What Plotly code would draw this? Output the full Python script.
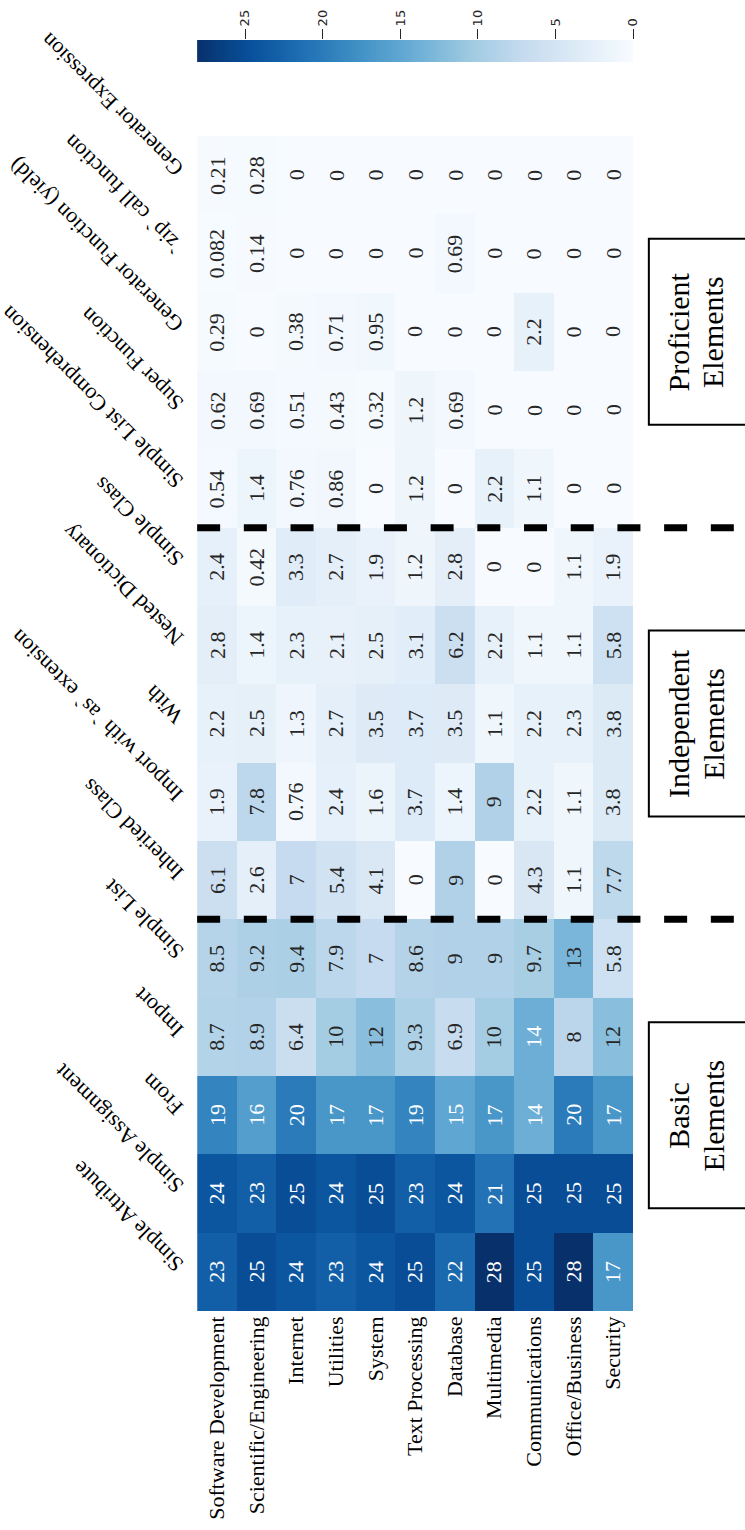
import numpy as np
import plotly.graph_objects as go

# ---- data -------------------------------------------------------------
categories = ["Software Development", "Scientific/Engineering", "Internet", "Utilities",
              "System", "Text Processing", "Database", "Multimedia",
              "Communications", "Office/Business", "Security"]

elements = ["Simple Attribute", "Simple Assignment", "From", "Import", "Simple List",
            "Inherited Class", "Import with `as` extension", "With", "Nested Dictionary",
            "Simple Class", "Simple List Comprehension", "Super Function",
            "Generator Function (yield)", "`zip` call function", "Generator Expression"]

simple_attribute = [23, 25, 24, 23, 24, 25, 22, 28, 25, 28, 17]
simple_assignment = [24, 23, 25, 24, 25, 23, 24, 21, 25, 25, 25]
from_stmt = [19, 16, 20, 17, 17, 19, 15, 17, 14, 20, 17]
import_stmt = [8.7, 8.9, 6.4, 10, 12, 9.3, 6.9, 10, 14, 8, 12]
simple_list = [8.5, 9.2, 9.4, 7.9, 7, 8.6, 9, 9, 9.7, 13, 5.8]
inherited_class = [6.1, 2.6, 7, 5.4, 4.1, 0, 9, 0, 4.3, 1.1, 7.7]
import_as = [1.9, 7.8, 0.76, 2.4, 1.6, 3.7, 1.4, 9, 2.2, 1.1, 3.8]
with_stmt = [2.2, 2.5, 1.3, 2.7, 3.5, 3.7, 3.5, 1.1, 2.2, 2.3, 3.8]
nested_dict = [2.8, 1.4, 2.3, 2.1, 2.5, 3.1, 6.2, 2.2, 1.1, 1.1, 5.8]
simple_class = [2.4, 0.42, 3.3, 2.7, 1.9, 1.2, 2.8, 0, 0, 1.1, 1.9]
list_comprehension = [0.54, 1.4, 0.76, 0.86, 0, 1.2, 0, 2.2, 1.1, 0, 0]
super_function = [0.62, 0.69, 0.51, 0.43, 0.32, 1.2, 0.69, 0, 0, 0, 0]
generator_function = [0.29, 0, 0.38, 0.71, 0.95, 0, 0, 0, 2.2, 0, 0]
zip_call = [0.082, 0.14, 0, 0, 0, 0, 0.69, 0, 0, 0, 0]
generator_expression = [0.21, 0.28, 0, 0, 0, 0, 0, 0, 0, 0, 0]

groups = ["Basic", "Independent", "Proficient"]
group_suffix = "Elements"
group_sizes = [5, 5, 5]

colorbar_ticks = [0, 5, 10, 15, 20, 25]
color_max = 28.1

# ---- styling ------------------------------------------------------------
W, H = 745, 1530
SERIF = "Liberation Serif, Times New Roman, serif"
SANS = "DejaVu Sans, sans-serif"
DARK = "#262626"

blues = ["rgb(247,251,255)", "rgb(222,235,247)", "rgb(198,219,239)",
         "rgb(158,202,225)", "rgb(107,174,214)", "rgb(66,146,198)",
         "rgb(33,113,181)", "rgb(8,81,156)", "rgb(8,48,107)"]
colorscale = [[i / (len(blues) - 1), c] for i, c in enumerate(blues)]
blues_rgb = np.array([[int(p) for p in c[4:-1].split(",")] for c in blues], float)

def cell_rgb(v):
    t = min(max(v / color_max, 0.0), 1.0) * (len(blues) - 1)
    k = min(int(t), len(blues) - 2)
    f = t - k
    return blues_rgb[k] * (1 - f) + blues_rgb[k + 1] * f

def text_color(v):
    rgb = cell_rgb(v) / 255.0
    lin = np.where(rgb <= 0.03928, rgb / 12.92, ((rgb + 0.055) / 1.055) ** 2.4)
    lum = 0.2126 * lin[0] + 0.7152 * lin[1] + 0.0722 * lin[2]
    return DARK if lum > 0.408 else "white"

z = [simple_attribute, simple_assignment, from_stmt, import_stmt, simple_list,
     inherited_class, import_as, with_stmt, nested_dict, simple_class,
     list_comprehension, super_function, generator_function, zip_call,
     generator_expression]

# pixel layout of the main grid
left, right, top, bottom = 199, 639, 136, 1311
xdom = [left / W, right / W]
ydom = [(H - bottom) / H, (H - top) / H]
row_px = (bottom - top) / len(elements)

fig = go.Figure()

fig.add_trace(go.Heatmap(
    z=z, x=categories, y=elements,
    colorscale=colorscale, zmin=0, zmax=color_max, showscale=False,
    xaxis="x", yaxis="y",
    hovertemplate="%{y} / %{x}: %{z}<extra></extra>",
))

# horizontal colour bar drawn as its own strip with a top axis
grad = np.linspace(0, color_max, 400)
fig.add_trace(go.Heatmap(
    z=[grad], x=grad, y=[0],
    colorscale=colorscale, zmin=0, zmax=color_max, showscale=False,
    xaxis="x2", yaxis="y2", hoverinfo="skip",
))

annotations = []
for i, el in enumerate(elements):
    for j, cat in enumerate(categories):
        v = z[i][j]
        annotations.append(dict(
            x=cat, y=el, xref="x", yref="y", text=format(v, ".2g"),
            showarrow=False, textangle=-90,
            font=dict(family=SERIF, size=22, color=text_color(v)),
        ))
    # element name, slanted away from the grid
    annotations.append(dict(
        x=193 / W, xref="paper", y=el, yref="y", text=el,
        showarrow=False, textangle=-135, xanchor="right", yanchor="bottom",
        yshift=-8, font=dict(family=SERIF, size=22, color="black"),
    ))

shapes = []
start = 0
box_half = 93 / row_px
for g, n in zip(groups, group_sizes):
    centre = start + (n - 1) / 2
    shapes.append(dict(
        type="rect", xref="paper", yref="y",
        x0=655 / W, x1=1.02, y0=centre - box_half, y1=centre + box_half,
        line=dict(color="black", width=2), fillcolor="rgba(0,0,0,0)", layer="above",
    ))
    for word, xpx in ((g, 685), (group_suffix, 720)):
        annotations.append(dict(
            x=xpx / W, xref="paper", y=centre, yref="y", text=word,
            showarrow=False, textangle=-90, xanchor="center", yanchor="middle",
            font=dict(family=SERIF, size=30, color="black"),
        ))
    if start + n < len(elements):
        shapes.append(dict(
            type="line", xref="x domain", yref="y",
            x0=0, x1=1.3, y0=start + n - 0.5, y1=start + n - 0.5,
            line=dict(color="black", width=7, dash="23px,23.7px"), layer="above",
        ))
    start += n

fig.update_layout(
    width=W, height=H, autosize=False,
    margin=dict(l=0, r=0, t=0, b=0, pad=0),
    paper_bgcolor="white", plot_bgcolor="white",
    showlegend=False,
    xaxis=dict(domain=xdom, anchor="y", range=[-0.5, len(categories) - 0.5],
               autorange=False, showgrid=False, zeroline=False,
               showline=False, ticks="", tickangle=-90,
               tickfont=dict(family=SERIF, size=22, color="black")),
    yaxis=dict(domain=ydom, anchor="x", range=[-0.5, len(elements) - 0.5],
               autorange=False, showgrid=False, zeroline=False,
               showline=False, ticks="", showticklabels=False),
    xaxis2=dict(domain=xdom, anchor="y2", range=[color_max, 0], autorange=False,
                side="top", showgrid=False, zeroline=False, showline=False,
                ticks="outside", ticklen=10, tickwidth=1.3, tickcolor=DARK,
                tickvals=colorbar_ticks, tickangle=-90,
                tickfont=dict(family=SANS, size=13, color=DARK)),
    yaxis2=dict(domain=[(H - 62) / H, (H - 40) / H], anchor="x2",
                showgrid=False, zeroline=False, showline=False,
                showticklabels=False, ticks="", range=[-0.5, 0.5], autorange=False),
    annotations=annotations,
    shapes=shapes,
)

fig.write_html("out.html")
